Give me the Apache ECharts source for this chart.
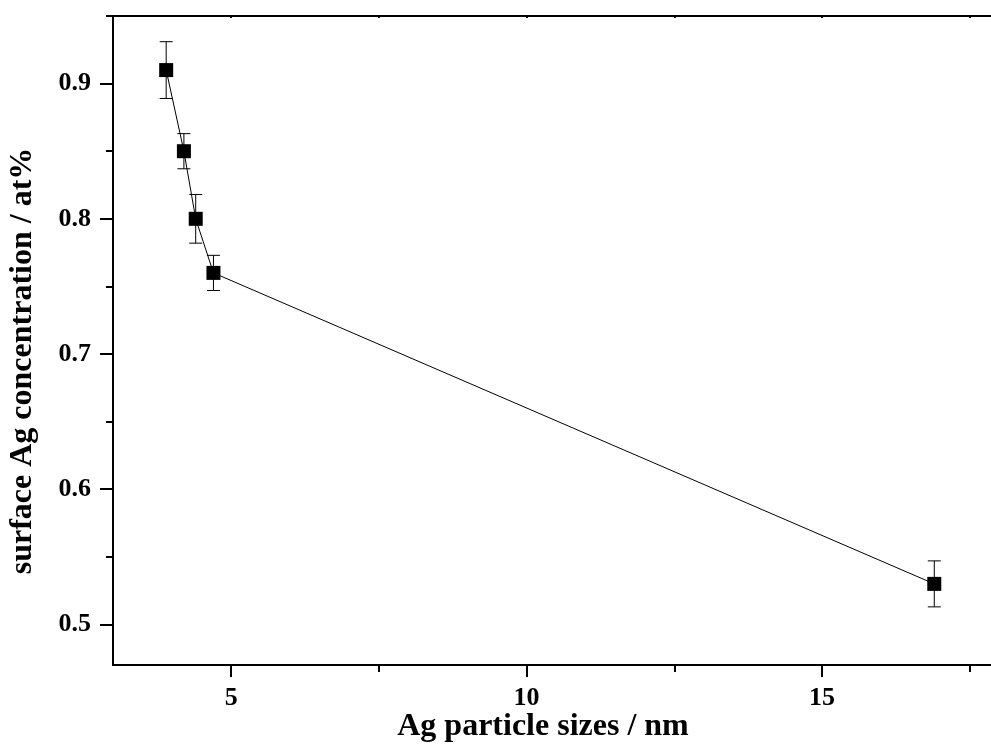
<!DOCTYPE html>
<html>
<head>
<meta charset="utf-8">
<script src="https://cdn.jsdelivr.net/npm/echarts@6/dist/echarts.min.js"></script>
<style>
html,body{margin:0;padding:0;background:#fff;}
#chart{width:991px;height:749px;}
</style>
</head>
<body>
<div id="chart"></div>
<script>
// Data
const sizes = [3.9, 4.2, 4.4, 4.7, 16.9];          // Ag particle sizes / nm
const concentrations = [0.91, 0.85, 0.80, 0.76, 0.53]; // surface Ag concentration / at%
const errors = [0.021, 0.013, 0.018, 0.013, 0.017];

const xMajorTicks = [5, 10, 15];
const xMinorTicks = [7.5, 12.5, 17.5];
const yMajorTicks = [0.5, 0.6, 0.7, 0.8, 0.9];
const yMinorTicks = [0.55, 0.65, 0.75, 0.85, 0.95];

const xTitle = 'Ag particle sizes / nm';
const yTitle = 'surface Ag concentration / at%';

const FONT = '"Liberation Serif", "Times New Roman", serif';
const X_MIN = 3, X_MAX = 17.86, Y_MIN = 0.47, Y_MAX = 0.95;

const points = sizes.map((x, i) => [x, concentrations[i]]);
const errData = sizes.map((x, i) => [x, concentrations[i] - errors[i], concentrations[i] + errors[i]]);

const chart = echarts.init(document.getElementById('chart'), null, {renderer: 'canvas'});

const baseX = {
  type: 'value', min: X_MIN, max: X_MAX, gridIndex: 0,
  splitLine: {show: false}
};
const baseY = {
  type: 'value', min: Y_MIN, max: Y_MAX, gridIndex: 0,
  splitLine: {show: false}
};

const option = {
  animation: false,
  backgroundColor: '#ffffff',
  grid: {left: 113, top: 16, right: 0, bottom: 84, containLabel: false},
  xAxis: [
    Object.assign({}, baseX, {
      position: 'bottom',
      axisLine: {show: true, lineStyle: {color: '#000', width: 2}},
      axisTick: {show: true, inside: false, length: 12, lineStyle: {color: '#000', width: 2}, customValues: xMajorTicks},
      axisLabel: {show: true, margin: 20, color: '#000', fontFamily: FONT, fontWeight: 'bold', fontSize: 26, customValues: xMajorTicks}
    }),
    Object.assign({}, baseX, {
      position: 'bottom',
      axisLine: {show: false},
      axisTick: {show: true, inside: false, length: 7, lineStyle: {color: '#000', width: 2}, customValues: xMinorTicks},
      axisLabel: {show: false}
    }),
    Object.assign({}, baseX, {
      position: 'top',
      axisLine: {show: true, lineStyle: {color: '#000', width: 2}},
      axisTick: {show: true, inside: true, length: 2, lineStyle: {color: '#000', width: 2}, customValues: xMajorTicks.concat(xMinorTicks)},
      axisLabel: {show: false}
    })
  ],
  yAxis: [
    Object.assign({}, baseY, {
      position: 'left',
      axisLine: {show: true, lineStyle: {color: '#000', width: 2}},
      axisTick: {show: true, inside: false, length: 13, lineStyle: {color: '#000', width: 2}, customValues: yMajorTicks},
      axisLabel: {show: true, margin: 22, color: '#000', fontFamily: FONT, fontWeight: 'bold', fontSize: 26,
        customValues: yMajorTicks, formatter: v => v.toFixed(1)}
    }),
    Object.assign({}, baseY, {
      position: 'left',
      axisLine: {show: false},
      axisTick: {show: true, inside: false, length: 7, lineStyle: {color: '#000', width: 2}, customValues: yMinorTicks},
      axisLabel: {show: false}
    })
  ],
  series: [
    {
      type: 'custom',
      xAxisIndex: 0, yAxisIndex: 0,
      data: errData,
      z: 3,
      renderItem: function (params, api) {
        const x = api.value(0);
        const lo = api.coord([x, api.value(1)]);
        const hi = api.coord([x, api.value(2)]);
        const cap = 6.5;
        const style = {stroke: '#000', lineWidth: 1};
        return {
          type: 'group',
          children: [
            {type: 'line', shape: {x1: lo[0], y1: lo[1], x2: hi[0], y2: hi[1]}, style: style},
            {type: 'line', shape: {x1: lo[0] - cap, y1: lo[1], x2: lo[0] + cap, y2: lo[1]}, style: style},
            {type: 'line', shape: {x1: hi[0] - cap, y1: hi[1], x2: hi[0] + cap, y2: hi[1]}, style: style}
          ]
        };
      }
    },
    {
      type: 'line',
      xAxisIndex: 0, yAxisIndex: 0,
      data: points,
      symbol: 'rect',
      symbolSize: 14,
      z: 4,
      lineStyle: {color: '#000', width: 1},
      itemStyle: {color: '#000'}
    }
  ],
  graphic: [
    {
      type: 'text', x: 543, y: 727,
      style: {text: xTitle, fill: '#000', font: 'bold 32px ' + FONT, align: 'center', verticalAlign: 'middle'}
    },
    {
      type: 'text', x: 23, y: 361, rotation: Math.PI / 2,
      style: {text: yTitle, fill: '#000', font: 'bold 32px ' + FONT, align: 'center', verticalAlign: 'middle'}
    }
  ]
};
chart.setOption(option);
</script>
</body>
</html>
